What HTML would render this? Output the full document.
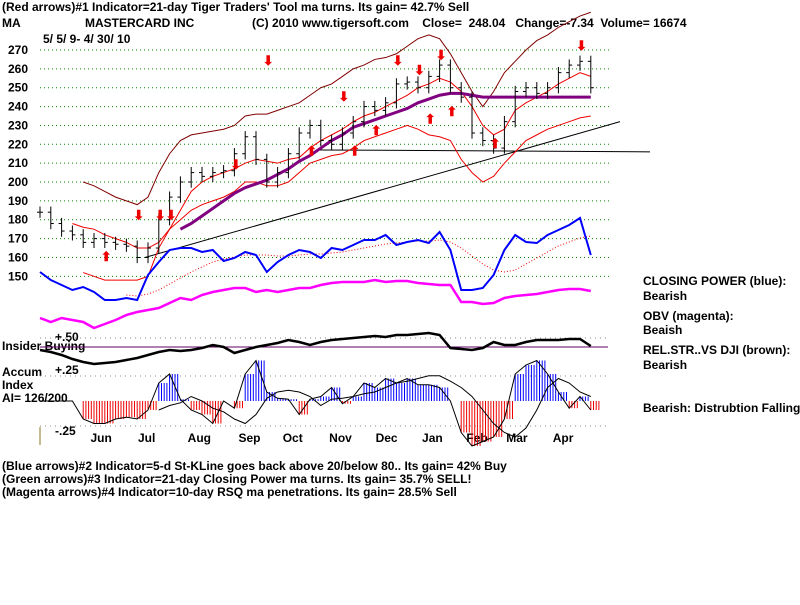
<!DOCTYPE html>
<html><head><meta charset="utf-8"><style>
body{margin:0;background:#fff;width:800px;height:600px;overflow:hidden}
svg text{font-family:"Liberation Sans",sans-serif;font-weight:bold;font-size:12px}
</style></head><body>
<svg id="c" width="800" height="600">
<text x="2" y="11">(Red arrows)#1 Indicator=21-day Tiger Traders' Tool ma turns. Its gain= 42.7% Sell</text>
<text x="2" y="27">MA</text>
<text x="85" y="27">MASTERCARD INC</text>
<text x="252" y="27" xml:space="preserve">(C) 2010 www.tigersoft.com    Close=  248.04   Change=-7.34  Volume= 16674</text>
<text x="43" y="43">5/ 5/ 9- 4/ 30/ 10</text>
<text x="643" y="285">CLOSING POWER (blue):</text>
<text x="643" y="300">Bearish</text>
<text x="643" y="320">OBV (magenta):</text>
<text x="643" y="334">Beaish</text>
<text x="643" y="354">REL.STR..VS DJI (brown):</text>
<text x="643" y="369">Bearish</text>
<text x="643" y="412">Bearish: Distrubtion Falling.</text>
<text x="2" y="350">Insider Buying</text>
<text x="55" y="341">+.50</text>
<text x="55" y="374">+.25</text>
<text x="2" y="376">Accum</text>
<text x="2" y="389">Index</text>
<text x="2" y="402">AI= 126/200</text>
<text x="55" y="435">-.25</text>
<line x1="40" y1="427" x2="40" y2="445" stroke="#8a7a20" stroke-width="1"/>
<text x="2" y="470">(Blue arrows)#2 Indicator=5-d St-KLine goes back above 20/below 80.. Its gain= 42% Buy</text>
<text x="2" y="483">(Green arrows)#3 Indicator=21-day Closing Power ma turns. Its gain= 35.7% SELL!</text>
<text x="2" y="496">(Magenta arrows)#4 Indicator=10-day RSQ ma penetrations. Its gain= 28.5% Sell</text>
</svg>
<script>
const priceTicks=[270,260,250,240,230,220,210,200,190,180,170,160,150];
const months=["Jun","Jul","Aug","Sep","Oct","Nov","Dec","Jan","Feb","Mar","Apr"];
const monthPos=[5.6,10,14.6,19.3,23.4,27.7,32,36.3,40.4,44.1,48.4];
const closes=[184,178,174,172,168,170,168,167,166,160,165,180,192,200,205,203,205,206,215,224,212,200,205,215,226,230,222,220,226,232,240,238,242,252,253,250,256,262,250,245,226,222,218,232,248,250,247,250,258,262,264,250];
const upper=[null,null,null,null,200,198,195,192,190,188,192,205,215,222,225,226,227,228,230,235,236,236,238,240,242,246,250,252,256,260,262,265,266,268,272,276,278,276,268,258,248,240,248,258,264,270,275,278,282,285,288,290];
const lower=[null,null,null,null,152,150,148,148,148,148,150,165,175,180,185,188,190,192,195,200,200,198,198,200,205,210,212,214,215,218,222,224,226,228,230,228,225,224,222,212,205,200,203,210,216,222,225,228,230,232,234,235];
const ma21=[null,null,null,178,176,175,172,170,168,165,165,168,175,185,195,200,203,205,207,210,212,211,210,212,213,218,222,225,228,232,235,237,240,243,246,250,252,255,253,248,240,230,225,228,238,242,245,248,252,255,258,256];
const ma50=[null,null,null,null,null,null,null,null,null,null,null,null,null,175,178,182,186,190,194,197,199,201,204,207,211,214,218,222,225,229,231,233,235,237,239,242,244,246,247,247,246,245,245,245,245,245,245,245,245,245,245,245];
const closingPower=[28,20,15,10,13,8,0,0,2,0,25,38,50,52,52,48,50,39,42,48,45,28,38,45,50,48,42,52,50,55,60,60,65,55,58,60,57,68,50,10,10,12,25,50,65,58,57,65,70,75,82,45];
const cpMA=[null,null,null,null,null,null,null,null,5,4,6,10,16,22,28,33,38,41,43,45,45,45,44,44,45,46,46,47,48,50,52,54,56,57,58,59,59,60,58,52,44,36,30,28,30,36,42,48,54,58,62,64];
const obv=[-18,-22,-18,-20,-22,-28,-24,-20,-15,-12,-10,-8,-3,2,0,5,8,10,12,12,8,10,8,10,12,12,15,17,18,18,18,20,18,19,19,17,16,15,15,-2,-2,-4,-3,2,4,5,6,8,10,11,11,9];
const insider=[-3,-5,-8,-12,-15,-17,-16,-15,-13,-11,-8,-5,-3,-4,-3,-1,2,0,-6,-3,0,2,4,7,5,2,5,7,8,9,10,11,10,12,12,13,14,12,-1,-2,-3,-1,5,2,2,5,7,7,7,8,8,1];
const accum=[0,0,0,0,-20,-25,-25,-20,-18,-20,-10,20,30,2,-10,-15,-25,0,-8,30,45,10,3,2,-15,2,5,15,-3,5,20,15,25,20,25,18,18,15,0,-35,-50,-45,-40,-20,30,40,45,30,10,-8,5,-10];
const accumMA=[null,null,null,null,null,null,null,null,null,null,null,-10,-5,-2,5,0,-8,-12,-20,-25,-15,3,10,12,10,5,-5,2,3,5,8,10,15,20,22,25,28,28,22,15,5,-10,-25,-35,-40,-30,-10,15,25,20,10,5];
const redDown=[[9,180],[11,180],[12,180],[18,207],[21,262],[28,243],[33,262],[35,257],[37,265],[50,270]];
const redUp=[[6,158],[25,214],[29,214],[31,225],[36,231],[38,235],[42,218]];
const svg=document.getElementById('c');const NS='http://www.w3.org/2000/svg';
const xi=i=>40+i*10.8;
const yP=v=>50+(270-v)*1.886;
const yC=v=>300-v;
const yO=v=>300-v;
const yI=v=>347-v;
const yA=v=>401-v*0.9;
function mk(t,a,nm){const e=document.createElementNS(NS,t);for(const k in a)e.setAttribute(k,a[k]);


svg.appendChild(e);return e;}
priceTicks.forEach(v=>{mk('line',{x1:40,x2:610,y1:yP(v),y2:yP(v),stroke:'#080','stroke-dasharray':'1,3','stroke-width':1},'grid-line');
const t=mk('text',{x:8,y:yP(v)+4},'price-tick');t.textContent=v;});
mk('line',{x1:40,x2:610,y1:yA(27.8),y2:yA(27.8),stroke:'#888','stroke-dasharray':'1,4'},'accum-grid');
mk('line',{x1:40,x2:610,y1:yA(-27.8),y2:yA(-27.8),stroke:'#888','stroke-dasharray':'1,4'},'accum-grid');
mk('line',{x1:40,x2:610,y1:338,y2:338,stroke:'#888','stroke-dasharray':'1,4'},'insider-grid');
months.forEach((m,k)=>{const t=mk('text',{x:xi(monthPos[k])-10,y:442},'month-label');t.textContent=m;});
function path(arr,yf,col,w,nm,dash){let d='';arr.forEach((v,i)=>{if(v==null)return;d+=(d?'L':'M')+xi(i)+','+yf(v);});
const a={d:d,fill:'none',stroke:col,'stroke-width':w};if(dash)a['stroke-dasharray']=dash;mk('path',a,nm);}
mk('line',{x1:145,y1:yP(160),x2:620,y2:yP(232),stroke:'#000'},'trend-line');
mk('line',{x1:320,y1:yP(217),x2:650,y2:yP(216),stroke:'#000'},'support-line');
path(upper,yP,'#800000',1,'upper-band');
path(lower,yP,'#e00',1,'lower-band');
path(ma21,yP,'#e00',1,'ma21-line');
path(ma50,yP,'#800080',3,'ma50-line');
closes.forEach((c,i)=>{const o=i?closes[i-1]:c;const hi=Math.max(o,c)+3,lo=Math.min(o,c)-3;
mk('line',{x1:xi(i),x2:xi(i),y1:yP(hi),y2:yP(lo),stroke:'#000'},'price-bar');
mk('line',{x1:xi(i),x2:xi(i)+3,y1:yP(c),y2:yP(c),stroke:'#000'},'close-tick');
mk('line',{x1:xi(i)-3,x2:xi(i),y1:yP(o),y2:yP(o),stroke:'#000'},'open-tick');});
redDown.forEach(a=>{const t=mk('text',{x:xi(a[0])-4,y:yP(a[1]),style:'fill:#e00;font-size:13px'},'sell-arrow');t.textContent='⬇';});
redUp.forEach(a=>{const t=mk('text',{x:xi(a[0])-4,y:yP(a[1]),style:'fill:#e00;font-size:13px'},'buy-arrow');t.textContent='⬆';});
path(cpMA,yC,'#e00',1,'cp-ma-line','1,2');
path(closingPower,yC,'#00f',2,'closing-power-line');
path(obv,yO,'#f0f',2.5,'obv-line');
mk('line',{x1:40,x2:608,y1:347,y2:347,stroke:'#600060'},'insider-zero');
path(insider,yI,'#000',2.5,'insider-line');
accum.forEach((v,i)=>{if(!v)return;for(let k=0;k<4;k++){
mk('line',{x1:xi(i)+k*2.7,x2:xi(i)+k*2.7,y1:yA(0),y2:yA(v),stroke:v>0?'#00f':'#e00'},'accum-bar');}});
path(accum,yA,'#000',1,'accum-outline');
path(accumMA,yA,'#000',1,'accum-ma');
</script>
</body></html>
